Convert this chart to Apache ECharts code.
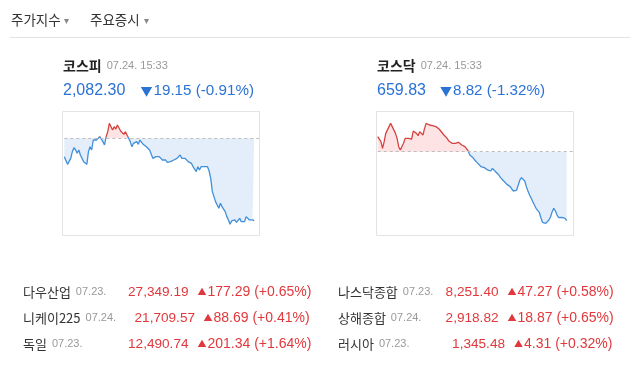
<!DOCTYPE html>
<html><head><meta charset="utf-8">
<script src="https://cdn.jsdelivr.net/npm/echarts@6/dist/echarts.min.js"></script>
<style>html,body{margin:0;padding:0;background:#fff}#c{width:640px;height:365px}</style>
</head><body><div id="c"></div><script>
// ---- data ----
const kospiName = '코스피', kosdaqName = '코스닥';
const kospiTime = '07.24. 15:33', kosdaqTime = '07.24. 15:33';
const kospiClose = 2082.30, kospiChange = 19.15, kospiRate = '-0.91%';
const kosdaqClose = 659.83, kosdaqChange = 8.82, kosdaqRate = '-1.32%';
const kospiPrev = 2101.45, kosdaqPrev = 668.65;
const kospiValues = [
2097.19,2097.58,2095.40,2095.64,2096.80,2098.35,2099.28,2098.74,2097.96,2098.74,
2097.58,2097.19,2096.03,2096.41,2095.40,2098.35,2099.51,2098.74,2101.06,2101.45,
2101.06,2101.45,2101.84,2101.45,2100.68,2099.90,2101.84,2103.00,2104.94,2104.55,
2103.39,2104.16,2103.62,2104.55,2104.16,2103.16,2103.39,2102.38,2103.00,2102.61,
2101.45,2100.68,2099.51,2100.29,2099.90,2100.68,2100.06,2101.06,2100.68,2100.06,
2100.29,2099.51,2099.90,2098.74,2099.13,2096.80,2096.41,2097.19,2096.95,2097.19,
2096.80,2096.41,2096.80,2096.41,2095.87,2095.64,2096.03,2095.64,2096.41,2096.03,
2096.80,2097.19,2097.58,2096.80,2096.41,2096.80,2096.41,2096.03,2095.87,2095.64,
2094.86,2094.47,2093.70,2094.86,2094.09,2094.86,2094.47,2094.86,2095.09,2094.86,
2093.85,2092.15,2089.05,2087.89,2086.73,2085.95,2085.18,2086.34,2085.56,2085.18,
2084.40,2083.24,2082.46,2081.46,2082.23,2082.08,2082.46,2081.92,2082.23,2082.85,
2082.08,2082.46,2082.08,2083.24,2082.85,2082.46,2082.70,2082.46,2082.30];
const kosdaqValues = [
670.57,670.78,669.93,669.08,669.93,670.99,671.21,671.85,672.27,671.85,
671.63,670.99,670.35,669.29,668.86,669.08,669.72,670.35,670.48,670.35,
670.35,670.27,671.29,671.21,670.99,670.70,671.21,670.99,670.78,671.63,
672.27,672.14,672.06,671.85,671.97,671.72,671.85,671.72,671.55,671.29,
671.21,670.78,670.57,670.35,670.01,669.84,669.72,669.59,669.72,669.59,
669.84,669.72,669.50,669.42,669.29,669.08,668.74,668.22,668.01,667.88,
667.58,667.37,667.16,667.03,666.73,666.52,666.61,666.43,666.31,666.43,
666.18,666.52,666.31,666.09,665.88,665.67,665.33,665.16,664.90,664.73,
664.47,664.39,664.18,663.88,663.62,663.62,663.75,664.39,665.03,665.33,
665.24,664.90,664.18,663.62,663.11,662.69,662.26,661.83,661.41,661.19,
660.90,660.21,659.62,659.45,659.49,659.70,659.92,660.34,660.98,661.41,
661.07,660.55,660.21,660.34,660.26,660.26,660.13,659.83];
const sessionSlots = 121; // x extent of each intraday chart (sample slots)
const kospiRange = [2078.73, 2107.81];
const kosdaqRange = [657.87, 673.85];

const tabs = ['주가지수', '주요증시'];
const worldNames = ['다우산업', '니케이225', '독일', '나스닥종합', '상해종합', '러시아'];
const worldDates = ['07.23.', '07.24.', '07.23.', '07.23.', '07.24.', '07.23.'];
const worldValues = ['27,349.19', '21,709.57', '12,490.74', '8,251.40', '2,918.82', '1,345.48'];
const worldChanges = ['177.29', '88.69', '201.34', '47.27', '18.87', '4.31'];
const worldRates = ['+0.65%', '+0.41%', '+1.64%', '+0.58%', '+0.65%', '+0.32%'];

// ---- styles / layout ----
const KR = '"Noto Sans CJK KR", sans-serif';
const NUM = '"Liberation Sans", "Noto Sans CJK KR", sans-serif';
const BLUE = '#2a72d6', RED = '#e0383c';
const LINE_UP = '#d4433f', LINE_DN = '#3f8fdb', AREA_UP = '#fde3e3', AREA_DN = '#e3eefa';
const rowY = [292, 318, 344];
const valEndX = [188.5, 195, 188.5, 498.5, 498.5, 505];
const chgX = [197.5, 203.5, 197.5, 507.5, 507.5, 514];
const nameX = [23, 23, 23, 338, 338, 338];

const chart = echarts.init(document.getElementById('c'), null, {renderer: 'canvas'});
const fmt = n => n.toLocaleString('en-US', {minimumFractionDigits: 2, maximumFractionDigits: 2});

const graphic = [];
graphic.push({type: 'text', x: 11, y: 20, style: {text: tabs[0], font: '13.5px ' + KR, fill: '#333', verticalAlign: 'middle'}});
graphic.push({type: 'text', x: 64, y: 20, style: {text: '▾', font: '10px ' + KR, fill: '#888', verticalAlign: 'middle'}});
graphic.push({type: 'text', x: 90, y: 20, style: {text: tabs[1], font: '13.5px ' + KR, fill: '#333', verticalAlign: 'middle'}});
graphic.push({type: 'text', x: 144, y: 20, style: {text: '▾', font: '10px ' + KR, fill: '#888', verticalAlign: 'middle'}});
graphic.push({type: 'line', shape: {x1: 10, y1: 37.5, x2: 630, y2: 37.5}, style: {stroke: '#e2e2e2', lineWidth: 1}});

function headBlock(x, name, time, close, chg, rate, chgX) {
  graphic.push({type: 'text', x: x, y: 66, style: {
    text: '{n|' + name + '}{d|' + time + '}', verticalAlign: 'middle',
    rich: {n: {font: 'bold 14px ' + KR, fill: '#222', padding: [0, 5, 0, 0]}, d: {font: '11px ' + NUM, fill: '#999'}}}});
  graphic.push({type: 'text', x: x, y: 91, style: {text: fmt(close), font: '16px ' + NUM, fill: BLUE, verticalAlign: 'middle'}});
  graphic.push({type: 'text', x: chgX, y: 91, style: {
    text: '{t|▼}{v|' + fmt(chg) + ' (' + rate + ')}', verticalAlign: 'middle',
    rich: {t: {font: '12px ' + KR, fill: BLUE, padding: [0, 1, 0, 0]}, v: {font: '15.2px ' + NUM, fill: BLUE}}}});
}
headBlock(63, kospiName, kospiTime, kospiClose, kospiChange, kospiRate, 140.5);
headBlock(377, kosdaqName, kosdaqTime, kosdaqClose, kosdaqChange, kosdaqRate, 440);

graphic.push({type: 'rect', shape: {x: 62.5, y: 111.5, width: 197, height: 124}, style: {fill: 'none', stroke: '#e3e3e3', lineWidth: 1}});
graphic.push({type: 'rect', shape: {x: 376.5, y: 111.5, width: 197, height: 124}, style: {fill: 'none', stroke: '#e3e3e3', lineWidth: 1}});

for (let i = 0; i < 6; i++) {
  const y = rowY[i % 3];
  graphic.push({type: 'text', x: nameX[i], y: y, style: {
    text: '{n|' + worldNames[i] + '}{d|' + worldDates[i] + '}', verticalAlign: 'middle',
    rich: {n: {font: '13px ' + KR, fill: '#333', padding: [0, 5, 0, 0]}, d: {font: '11px ' + NUM, fill: '#999'}}}});
  graphic.push({type: 'text', x: valEndX[i], y: y, style: {text: worldValues[i], font: '13.6px ' + NUM, fill: RED, align: 'right', verticalAlign: 'middle'}});
  graphic.push({type: 'text', x: chgX[i], y: y, style: {
    text: '{t|▲}{v|' + worldChanges[i] + ' (' + worldRates[i] + ')}', verticalAlign: 'middle',
    rich: {t: {font: '9px ' + KR, fill: RED, padding: [0, 1, 0, 0]}, v: {font: '14px ' + NUM, fill: RED}}}});
}

// vertical hard-stop gradient at the previous close (relative to the shape's bounding box)
function splitGradient(values, prev, up, dn) {
  const mx = Math.max.apply(null, values), mn = Math.min.apply(null, values);
  const f = Math.min(1, Math.max(0, (mx - prev) / (mx - mn)));
  return new echarts.graphic.LinearGradient(0, 0, 0, 1, [
    {offset: 0, color: up}, {offset: f, color: up}, {offset: f, color: dn}, {offset: 1, color: dn}
  ]);
}

function lineSeries(idx, values, prev) {
  return {
    type: 'line', xAxisIndex: idx, yAxisIndex: idx, showSymbol: false, symbol: 'none',
    data: values.map((v, i) => [i, v]),
    lineStyle: {width: 1.3, color: splitGradient(values, prev, LINE_UP, LINE_DN)},
    itemStyle: {color: LINE_DN},
    areaStyle: {origin: prev, opacity: 1, color: splitGradient(values, prev, AREA_UP, AREA_DN)},
    markLine: {silent: true, symbol: 'none', label: {show: false}, animation: false,
      lineStyle: {type: [3, 3], color: '#bdbdbd', width: 1},
      data: [{yAxis: prev}]},
    animation: false
  };
}

chart.setOption({
  animation: false,
  graphic: graphic,
  grid: [
    {left: 64.3, top: 111, width: 194.7, height: 125},
    {left: 377.7, top: 111, width: 195.5, height: 125}
  ],
  xAxis: [
    {gridIndex: 0, type: 'value', min: 0, max: sessionSlots, show: false},
    {gridIndex: 1, type: 'value', min: 0, max: sessionSlots, show: false}
  ],
  yAxis: [
    {gridIndex: 0, type: 'value', min: kospiRange[0], max: kospiRange[1], show: false, splitLine: {show: false}},
    {gridIndex: 1, type: 'value', min: kosdaqRange[0], max: kosdaqRange[1], show: false, splitLine: {show: false}}
  ],
  series: [lineSeries(0, kospiValues, kospiPrev), lineSeries(1, kosdaqValues, kosdaqPrev)]
});
</script></body></html>
